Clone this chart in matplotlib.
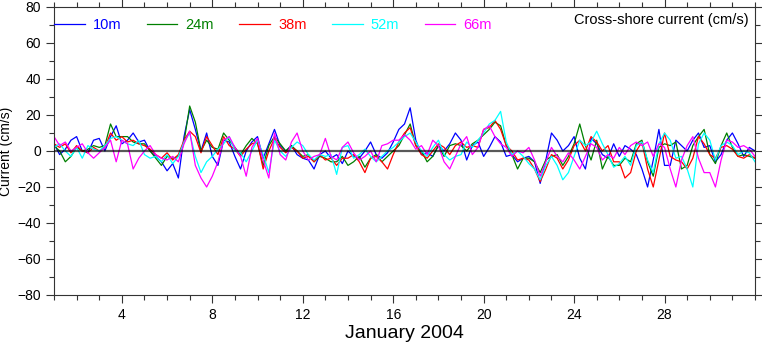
import numpy as np
import matplotlib
matplotlib.use("Agg")
import matplotlib.pyplot as plt
from matplotlib.ticker import MultipleLocator

plt.rcParams['font.family'] = ['Liberation Sans', 'DejaVu Sans']

# time axis: days of January 2004, every 6 hours
days = np.arange(1.0, 32.01, 0.25)

# cross-shore current (cm/s), one row per day
cur_10m = [4, -2, 1, 6,  8, 0, -1, 6,  7, 0, 8, 14,  4, 6, 10, 5,  6, 0, -3, -6,
           -11, -7, -15, 8,  23, 12, 0, 10,  -3, -8, 6, 5,  -3, -10, 0, 5,  8, -4, 4, 12,
           3, 0, 3, -2,  -4, -5, -10, -2,  0, -4, -2, -7,  0, -3, -4, 0,  5, -2, -4, -1,
           5, 12, 15, 24,  6, -2, -1, -3,  3, 0, 4, 10,  6, -5, 3, 5,  -3, 2, 8, 5,
           -3, -2, -6, -4,  -3, -6, -18, -5,  10, 6, 0, 3,  8, -4, -10, 7,  4, -2, -4, 4,
           -3, 3, 1, -2,  -10, -20, -5, 12,  -8, -8, 6, 3,  0, 6, 10, 2,  3, -6, -2, 6,
           10, 4, -3, 2,  0]
cur_24m = [3, 0, -6, -3,  2, 0, 1, 3,  2, 3, 15, 8,  8, 8, 5, 4,  4, 0, -4, -8,
           -3, -4, -3, 5,  25, 16, 0, 6,  2, 1, 10, 6,  2, -2, 3, 7,  4, -8, 3, 8,
           4, 0, 3, 0,  -3, -2, -6, -3,  -4, -6, -6, -3,  -8, -6, -3, -9,  -4, -2, -6, -3,
           0, 3, 9, 15,  3, 0, -6, -3,  3, -3, 3, 4,  3, 0, 4, 6,  9, 12, 16, 14,
           3, -2, -10, -4,  -4, -6, -12, -5,  -3, -2, -8, -3,  4, 15, 3, -5,  6, -10, -3, -8,
           -8, -4, -6, 4,  6, -6, -14, 2,  4, 3, 5, -10,  -8, 3, 8, 12,  -2, -7, 3, 10,
           2, -3, -2, -3,  -4]
cur_38m = [4, 2, 4, -1,  3, 0, -1, 2,  0, 2, 10, 6,  8, 5, 6, 4,  3, 1, -2, -4,
           -1, -5, -2, 6,  11, 8, -1, 8,  3, -2, 8, 3,  1, -3, 1, 4,  5, -10, 0, 7,
           2, -1, 2, 0,  -4, -3, -6, -2,  -5, -4, -8, -4,  -4, -2, -6, -12,  -4, -3, -6, -10,
           -2, 5, 10, 13,  3, -2, -4, 0,  4, 2, -2, 3,  5, 2, 3, 2,  12, 13, 17, 12,
           3, 0, -5, -4,  -5, -10, -17, -10,  -2, -4, -10, -5,  3, 6, 0, 8,  5, 0, 3, -6,
           -6, -15, -12, 0,  5, -10, -20, -5,  10, -3, -5, -6,  -10, -4, 8, 4,  -2, -4, 2, 3,
           1, -3, -4, -2,  -4]
cur_52m = [2, 4, 0, -3,  2, -4, 3, 1,  0, 3, 7, 8,  6, 4, 3, 6,  -2, -4, -3, -6,
           -2, -7, -3, 5,  10, -3, -12, -6,  -3, 1, 4, 8,  0, -1, -6, 0,  6, -2, -12, 6,
           0, -3, 2, 5,  3, -2, -5, -2,  -3, -2, -13, 2,  3, -4, -2, 1,  -3, -6, -3, 0,
           2, 5, 8, 10,  5, 0, -3, 2,  6, -2, -5, -3,  -2, 5, 2, 6,  10, 15, 17, 22,
           5, -2, 0, -3,  -7, -10, -16, -8,  -3, -8, -16, -12,  -3, 6, 3, 5,  11, 4, -2, -9,
           -7, -3, -8, 3,  5, -5, -12, 4,  10, 6, -4, -3,  -10, -20, 4, 10,  6, -5, 3, 5,
           3, -2, 0, -1,  -6]
cur_66m = [8, 3, 5, 0,  2, 4, -1, -4,  -1, 2, 6, -6,  6, 4, -10, -4,  0, 3, -2, -4,
           -5, -3, -6, 4,  11, -8, -15, -20,  -14, -6, 6, 8,  2, -3, -14, 2,  7, -5, -15, 10,
           -2, -5, 5, 10,  0, -5, -3, -2,  7, -3, -5, 2,  5, -1, -5, -3,  0, -6, 3, 4,
           6, 6, 9, 6,  1, 3, -2, 6,  3, -6, -10, -3,  4, 8, -2, 2,  12, 14, 8, 4,
           2, -3, 0, -1,  2, -5, -14, -6,  2, -3, -6, -1,  -5, -10, -3, 4,  2, -5, -2, -4,
           2, -2, 3, 5,  3, 5, -3, 4,  2, -10, -20, -5,  3, 8, -4, -12,  -12, -20, -5, 6,
           5, 2, 3, 1,  -3]

series = [cur_10m, cur_24m, cur_38m, cur_52m, cur_66m]
labels = ['10m', '24m', '38m', '52m', '66m']
colors = ['#0000ff', '#008000', '#ff0000', '#00ffff', '#ff00ff']

fig = plt.figure(figsize=(7.62, 3.46), dpi=100)
ax = fig.add_axes([54/762, 51/346, 701/762, 288/346])

for vals, lab, col in zip(series, labels, colors):
    ax.plot(days, vals, color=col, lw=0.9, label=lab)

ax.axhline(0, color='black', lw=1.6, alpha=0.65, zorder=10)

ax.set_xlim(1, 32)
ax.set_ylim(-80, 80)
ax.xaxis.set_major_locator(MultipleLocator(4))
ax.xaxis.set_minor_locator(MultipleLocator(1))
ax.yaxis.set_major_locator(MultipleLocator(20))
ax.yaxis.set_minor_locator(MultipleLocator(10))
ax.tick_params(which='both', direction='out', top=True, right=True,
               labeltop=False, labelright=False, labelsize=10, width=0.8,
               color='#333333')
ax.tick_params(which='major', length=6)
ax.tick_params(which='minor', length=3.5)
ax.set_xticks([4, 8, 12, 16, 20, 24, 28])
for sp in ax.spines.values():
    sp.set_linewidth(0.8)
    sp.set_color('#333333')

ax.set_xlabel('January 2004', fontsize=14, labelpad=2)
ax.set_ylabel('Current (cm/s)', fontsize=10)
ax.yaxis.set_label_coords(-0.058, 0.5)

ax.text(0.9914, 0.955, 'Cross-shore current (cm/s)', transform=ax.transAxes,
        ha='right', va='center', fontsize=10.5)

leg = ax.legend(loc='center left', bbox_to_anchor=(0, 1 - 18/288), ncol=5,
                frameon=False, fontsize=10.5, handlelength=2.1,
                handletextpad=0.55, columnspacing=1.75, borderpad=0,
                borderaxespad=0, labelcolor='linecolor')

fig.savefig('out.png', dpi=100)
